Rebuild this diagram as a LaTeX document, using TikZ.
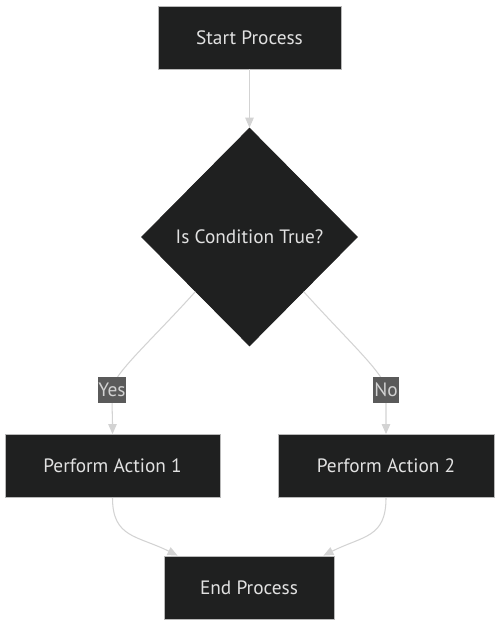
\documentclass[tikz,border=0pt]{standalone}
\usepackage{fontspec}
\setmainfont{PT Sans}
\usepackage{tikz}
\usetikzlibrary{arrows.meta}
\usetikzlibrary{shapes.geometric}

\definecolor{boxfill}{RGB}{31,32,32}
\definecolor{boxline}{RGB}{185,185,185}
\definecolor{boxtext}{RGB}{225,225,225}
\definecolor{flowline}{RGB}{211,211,211}
\definecolor{lblfill}{RGB}{90,90,90}
\definecolor{lbltext}{RGB}{210,210,210}

\begin{document}
\begin{tikzpicture}[x=0.02cm,y=-0.02cm]
        \tikzset{box/.style={rectangle, fill=boxfill, draw=boxline, line width=0.5pt, text=boxtext, font=\fontsize{11}{13}\selectfont, minimum height=1.26cm, inner sep=0pt},
                 decision/.style={diamond, shape aspect=1, fill=boxfill, draw=boxfill, text=boxtext, font=\fontsize{11}{13}\selectfont, minimum width=4.32cm, minimum height=4.36cm, inner sep=0pt},
                 flow/.style={draw=flowline, line width=0.6pt, -{Triangle[length=0.2cm,width=0.17cm]}},
                 edgelabel/.style={rectangle, fill=lblfill, text=lbltext, font=\fontsize{11}{13}\selectfont, minimum height=0.52cm, inner sep=0.5pt}}

        \useasboundingbox (0,0) rectangle (499,624);

        \node[box, minimum width=3.66cm] (start_proc) at (249.5,37.5) {Start Process};
        \node[decision] (is_true) at (249.5,237) {Is Condition True?};
        \node[box, minimum width=4.3cm] (act_one) at (112.5,466) {Perform Action 1};
        \node[box, minimum width=4.32cm] (act_two) at (386,466) {Perform Action 2};
        \node[box, minimum width=3.4cm] (end_proc) at (249,587.5) {End Process};

        \coordinate (yes_pt) at (112,390);
        \coordinate (no_pt) at (386,390);

        \draw[flow] (start_proc) -- (is_true);

        %Yes
        \draw[flow] (is_true.south west) .. controls +(-45,50) and +(0,-15) .. (yes_pt) .. controls +(0,20) and +(0,-15) .. (act_one.north);
        \node[edgelabel] (yes_lbl) at (yes_pt) {Yes};

        %No
        \draw[flow] (is_true.south east) .. controls +(45,50) and +(0,-15) .. (no_pt) .. controls +(0,20) and +(0,-15) .. (act_two.north);
        \node[edgelabel] (no_lbl) at (no_pt) {No};

        \draw[flow] (act_one.south) .. controls +(0,40) and +(-40,-20) .. ([xshift=0.28cm]end_proc.north west);
        \draw[flow] (act_two.south) .. controls +(0,40) and +(40,-20) .. ([xshift=-0.22cm]end_proc.north east);
\end{tikzpicture}
\end{document}
